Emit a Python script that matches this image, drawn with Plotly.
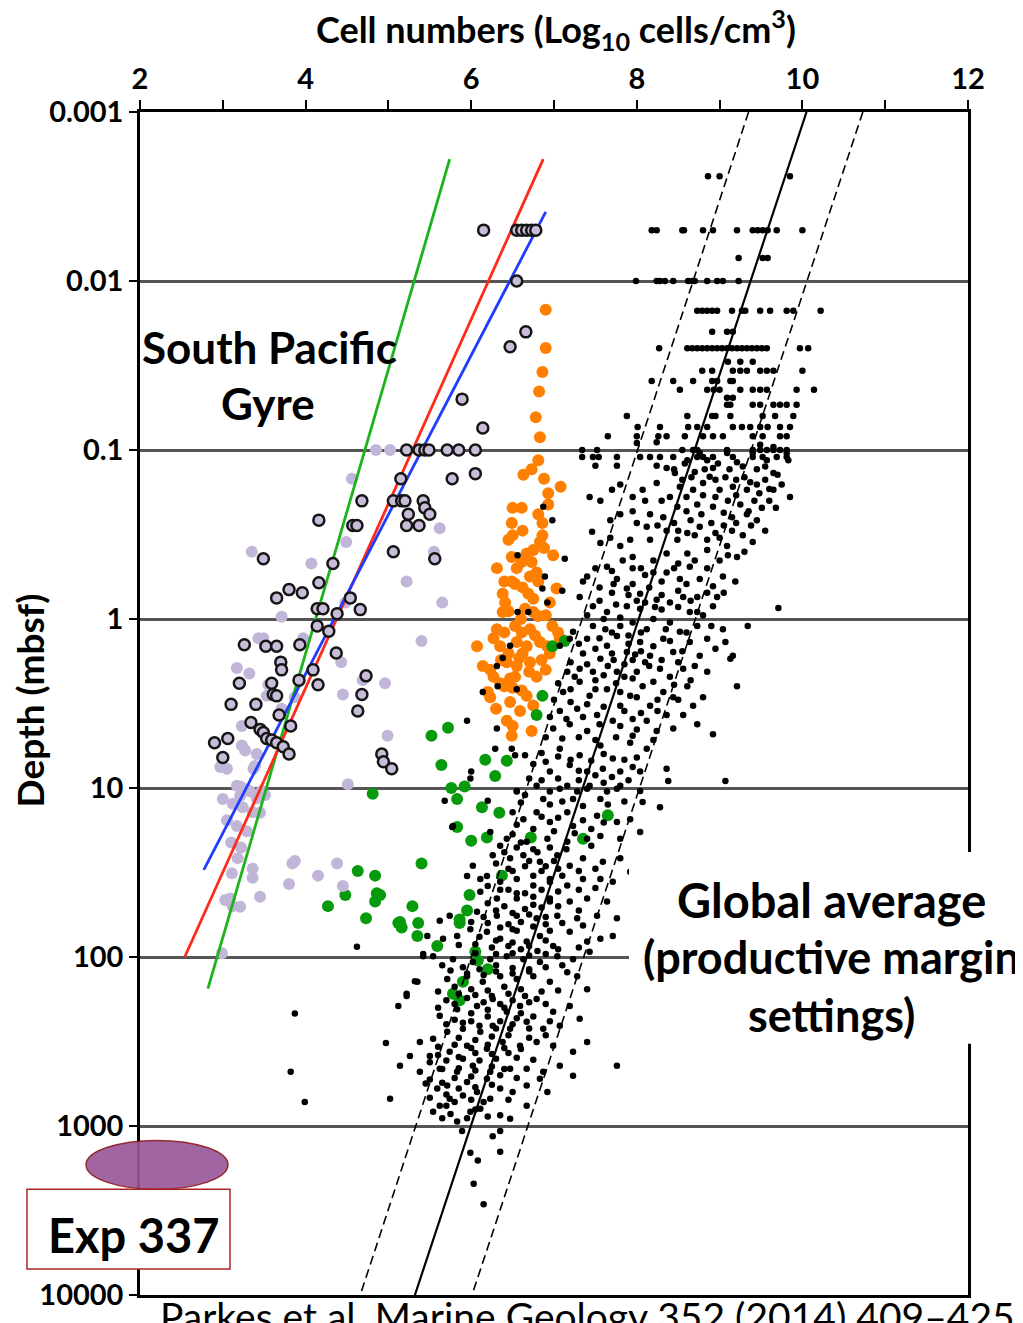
import plotly.graph_objects as go

# ---------------- data ----------------
# South Pacific Gyre: open circles (x = log10 cells/cm3, depth = mbsf)
spg_open_x = [6.15, 6.55, 6.61, 6.67, 6.73, 6.78, 6.55, 6.66, 6.47, 5.89, 6.14,
              5.22, 5.37, 5.44, 5.49, 5.71, 5.85, 6.05,
              5.77, 6.05, 5.15, 4.68, 5.06, 5.16, 5.20, 5.42, 5.44, 5.50, 5.24,
              4.16, 4.57, 4.62, 5.22, 5.37, 5.06, 5.56, 3.49, 4.33, 4.16,
              3.65, 3.80, 3.96, 4.14, 4.21, 4.54, 4.66, 4.38, 4.14, 4.28, 3.26,
              3.52, 3.65, 3.93, 4.37, 3.70, 3.71, 4.09, 4.73, 3.20, 3.59, 3.92,
              4.15, 4.68, 3.61, 3.65, 3.10, 3.40, 4.63, 3.68, 3.34, 3.45, 3.49,
              3.82, 2.90, 3.06, 3.53, 3.59, 3.65, 3.73, 3.80, 3.00, 4.92, 4.94, 5.04]
spg_open_depth = [0.005, 0.005, 0.005, 0.005, 0.005, 0.005, 0.01, 0.02, 0.0245, 0.05, 0.074,
                  0.1, 0.1, 0.1, 0.1, 0.1, 0.1, 0.1,
                  0.148, 0.138, 0.148, 0.2, 0.2, 0.2, 0.2, 0.2, 0.22, 0.24, 0.24,
                  0.26, 0.28, 0.28, 0.28, 0.28, 0.4, 0.44, 0.44, 0.47, 0.61,
                  0.75, 0.67, 0.7, 0.87, 0.87, 0.75, 0.88, 0.93, 1.1, 1.18, 1.42,
                  1.45, 1.45, 1.42, 1.59, 1.8, 2.0, 2.0, 2.17, 2.4, 2.4, 2.3,
                  2.45, 2.8, 2.8, 2.85, 3.2, 3.2, 3.5, 3.7, 4.1, 4.5, 4.7,
                  4.3, 5.4, 5.1, 5.1, 5.2, 5.4, 5.7, 6.3, 6.6, 6.3, 7.0, 7.7]

# South Pacific Gyre: filled lavender circles
spg_fill_x = [4.85, 5.02, 4.56, 3.35, 4.07, 4.49, 5.62, 5.55, 5.22, 5.65, 3.71, 4.48,
              5.40, 3.43, 3.49, 3.97, 3.17, 3.32, 4.43, 4.69, 4.96, 3.55, 3.53, 4.45,
              3.87, 3.71, 3.23, 3.23, 3.27, 3.41, 2.99, 3.05, 3.39, 4.99, 4.51, 3.21,
              3.29, 3.47, 2.97, 3.37, 3.17, 3.24, 3.33, 3.21, 3.00, 3.12, 3.24, 3.36,
              3.05, 3.17, 3.29, 3.10, 3.22, 3.41, 3.51, 3.45, 3.18, 3.36, 3.11, 3.84,
              3.87, 3.80, 4.15, 4.38, 4.45, 3.36, 3.45, 3.03, 3.09, 3.12, 3.21, 2.99]
spg_fill_depth = [0.1, 0.1, 0.148, 0.4, 0.47, 0.35, 0.29, 0.4, 0.6, 0.8, 0.97, 0.8,
                  1.35, 1.3, 1.3, 1.3, 1.95, 2.1, 1.8, 2.3, 2.4, 2.45, 2.85, 2.8,
                  2.9, 3.4, 4.3, 5.6, 6.0, 6.3, 7.3, 7.7, 7.4, 4.9, 9.5, 9.8,
                  10.2, 10.4, 7.5, 7.7, 9.7, 10.1, 10.5, 11.1, 11.6, 12.4, 13.0, 13.9,
                  15.5, 16.8, 18.0, 21.0, 22.5, 11.5, 11.0, 14.0, 26.0, 30.0, 32.0, 28.0,
                  27.0, 37.0, 33.0, 28.0, 38.0, 34.0, 44.0, 46.0, 45.0, 50.0, 50.5, 95.0]

# orange filled circles
orange_x = [6.90, 6.90, 6.86, 6.82, 6.78, 6.83, 6.81, 6.63, 6.73, 6.88, 7.08, 6.93,
            6.93, 6.50, 6.61, 6.81, 6.86, 6.49, 6.50, 6.45, 6.86, 6.83, 6.75, 6.67,
            6.49, 6.99, 6.31, 6.61, 6.73, 6.79, 6.49, 6.53, 6.71, 6.81, 7.03, 6.38,
            6.69, 6.75, 6.95, 6.41, 6.38, 6.65, 6.75, 6.81, 6.53, 6.61, 6.31, 6.71,
            6.77, 6.98, 7.05, 6.07, 6.27, 6.35, 6.55, 6.67, 6.83, 6.92, 7.07, 6.14,
            6.23, 6.43, 6.55, 6.71, 6.95, 6.27, 6.35, 6.79, 6.23, 6.20, 6.53, 6.61,
            6.67, 6.75, 6.47, 6.59, 6.43, 6.50, 6.73, 6.49,
            6.55, 6.62, 6.45, 6.60, 6.40, 6.90, 6.45, 6.62, 6.85, 6.40, 6.50, 6.90,
            6.30, 6.88, 6.62, 6.40, 6.58, 6.70, 6.36, 6.47]
orange_depth = [0.0148, 0.0249, 0.0345, 0.045, 0.064, 0.084, 0.115, 0.14, 0.13, 0.148, 0.165, 0.18,
                0.21, 0.22, 0.22, 0.24, 0.27, 0.27, 0.32, 0.34, 0.32, 0.35, 0.39, 0.41,
                0.43, 0.42, 0.5, 0.46, 0.46, 0.53, 0.6, 0.62, 0.56, 0.6, 0.66, 0.71,
                0.71, 0.76, 0.8, 0.8, 0.91, 0.87, 0.91, 0.96, 1.1, 1.2, 1.15, 1.15,
                1.25, 1.1, 1.2, 1.45, 1.3, 1.45, 1.37, 1.45, 1.37, 1.45, 1.3, 1.9,
                2.0, 1.8, 1.9, 1.8, 1.6, 2.2, 2.4, 2.2, 2.9, 2.7, 2.2, 2.65,
                2.85, 3.25, 3.1, 3.5, 4.0, 4.3, 4.6, 4.9,
                0.5, 0.65, 0.9, 1.0, 1.2, 0.95, 1.6, 1.6, 1.75, 2.5, 2.55, 2.0,
                3.4, 0.38, 0.3, 0.6, 1.7, 2.05, 1.75, 2.25]

# green filled circles
green_x = [6.98, 7.13, 6.86, 6.79, 5.72, 5.52, 5.64, 6.17, 6.43, 6.29, 5.76, 5.92,
           5.83, 6.13, 6.34, 5.83, 6.00, 6.19, 6.72, 7.35, 5.40, 6.37, 5.98, 5.29,
           5.95, 5.14, 5.36, 5.35, 5.16, 5.86, 5.86, 5.59, 6.05, 6.08, 6.20, 5.90,
           5.78, 5.86, 4.81, 4.63, 4.84, 4.48, 4.86, 4.90, 4.84, 4.27, 4.73, 5.12, 7.65]
green_depth = [1.45, 1.35, 2.85, 3.7, 4.4, 4.9, 7.3, 6.8, 6.9, 8.5, 10.0, 9.8,
               11.6, 13.0, 14.0, 17.0, 20.5, 19.6, 19.6, 20.0, 28.0, 33.0, 43.0, 50.0,
               53.0, 62.0, 63.0, 75.0, 67.0, 60.0, 63.0, 86.0, 93.0, 105.0, 118.0, 140.0,
               165.0, 180.0, 10.8, 31.0, 33.0, 43.0, 42.0, 43.0, 47.0, 50.0, 59.0, 63.0, 14.5]

# black dots (global data set): shallow rows recorded at fixed depths
black_row_depth = [0.0024, 0.005, 0.0073, 0.01, 0.015, 0.02, 0.025, 0.03, 0.034, 0.039,
                   0.044, 0.049, 0.054, 0.063, 0.073, 0.083, 0.1, 0.11]
black_row_x = [
    [8.86, 9.00, 9.85],
    [8.18, 8.24, 8.55, 8.57, 8.80, 8.92, 9.21, 9.40, 9.46, 9.52, 9.58, 9.69, 10.00],
    [9.23, 9.52, 9.58],
    [7.99, 8.24, 8.28, 8.34, 8.44, 8.62, 8.67, 8.70, 8.85, 8.97, 9.04, 9.23],
    [8.73, 8.79, 8.85, 8.91, 8.97, 9.15, 9.27, 9.31, 9.49, 9.61, 9.81, 9.89, 10.22],
    [8.91, 9.09, 9.16],
    [8.27, 8.61, 8.67, 8.73, 8.79, 8.85, 8.91, 8.97, 9.03, 9.09, 9.15, 9.21, 9.27, 9.33,
     9.39, 9.45, 9.51, 9.57, 9.97, 10.07],
    [9.10, 9.25, 9.40],
    [8.79, 8.91, 9.16, 9.25, 9.33, 9.49, 9.57, 9.65, 10.00],
    [8.18, 8.44, 8.68, 8.91, 8.97, 9.13, 9.16],
    [8.52, 8.85, 8.93, 9.00, 9.25, 9.40, 9.49, 9.57, 9.93, 10.14],
    [9.09, 9.16],
    [9.09, 9.13, 9.40, 9.49, 9.65, 9.73, 9.81, 9.93],
    [7.88, 8.61, 8.91, 8.95, 9.13, 9.52, 9.67, 9.89],
    [8.01, 8.28, 8.62, 8.73, 8.85, 9.16, 9.27, 9.37, 9.49, 9.58, 9.73, 9.85],
    [7.65, 8.00, 8.26, 8.36, 8.58, 8.80, 8.92, 9.04, 9.40, 9.52, 9.73, 9.81],
    [7.34, 7.52, 8.55, 8.68, 8.73, 9.09, 9.40, 9.49, 9.57, 9.65, 9.73, 9.81],
    [7.47, 7.76, 8.04, 8.16, 8.28, 8.44, 8.73, 8.80, 8.92, 9.16, 9.40, 9.52, 9.69, 9.81],
]

# black dots: deeper scattered samples (x, depth)
black_points = [
    (7.34, 0.11), (7.54, 0.11), (7.50, 0.124), (7.76, 0.124), (8.00, 0.091), (8.24, 0.09),
    (8.24, 0.124), (8.36, 0.128), (8.46, 0.137), (8.61, 0.115), (8.76, 0.104), (8.85, 0.115),
    (8.92, 0.128), (9.09, 0.104), (9.21, 0.118), (9.40, 0.104), (9.57, 0.115), (9.65, 0.137),
    (9.81, 0.104), (9.83, 0.115), (9.65, 0.096), (9.49, 0.093),
    (7.43, 0.19), (7.56, 0.2), (7.70, 0.172), (7.80, 0.16), (8.07, 0.172), (8.24, 0.157),
    (8.52, 0.165), (8.68, 0.172), (8.80, 0.157), (8.88, 0.144), (9.00, 0.172), (9.16, 0.165),
    (9.33, 0.172), (9.37, 0.155), (9.65, 0.172), (9.85, 0.19), (9.51, 0.22), (9.25, 0.21),
    (8.92, 0.217), (8.73, 0.21), (8.49, 0.217), (8.32, 0.25), (8.16, 0.24), (7.95, 0.23),
    (7.80, 0.24), (7.68, 0.26),
    (7.46, 0.305), (7.56, 0.355), (7.68, 0.33), (7.80, 0.37), (7.92, 0.34), (8.12, 0.285),
    (8.16, 0.34), (8.36, 0.3), (8.49, 0.34), (8.61, 0.31), (8.76, 0.285), (8.85, 0.34),
    (9.00, 0.33), (9.09, 0.37), (9.28, 0.32), (9.21, 0.43), (8.85, 0.39), (8.61, 0.41),
    (8.36, 0.41), (7.95, 0.43), (7.83, 0.45), (7.13, 0.44),
    (7.40, 0.56), (7.64, 0.49), (7.76, 0.58), (7.88, 0.66), (8.04, 0.71), (8.20, 0.53),
    (8.36, 0.53), (8.52, 0.58), (8.64, 0.49), (8.76, 0.58), (8.92, 0.64), (9.04, 0.56),
    (9.19, 0.6), (8.73, 0.74), (8.56, 0.74), (8.40, 0.8), (8.24, 0.77), (8.04, 0.87),
    (7.88, 0.84), (7.64, 0.91), (7.47, 0.84), (7.31, 0.74), (7.35, 0.6), (8.73, 0.91),
    (8.92, 0.84), (8.97, 0.74), (8.64, 0.91), (9.71, 0.86), (9.34, 1.1),
    (7.23, 1.19), (7.40, 1.31), (7.47, 1.1), (7.64, 1.44), (7.76, 1.26), (7.56, 1.72),
    (7.88, 1.57), (8.04, 1.37), (8.12, 1.15), (8.16, 1.65), (8.32, 1.31), (8.44, 1.57),
    (8.52, 1.19), (8.64, 1.37), (8.73, 1.1), (8.76, 1.65), (8.56, 1.97), (8.28, 1.97),
    (8.00, 2.05), (7.76, 2.05), (7.47, 2.05), (7.31, 1.97), (7.16, 2.05), (8.85, 1.31),
    (9.04, 1.15), (9.16, 1.65), (8.85, 2.05), (9.07, 1.37), (9.13, 1.72),
    (7.11, 2.7), (7.31, 2.35), (7.43, 2.85), (7.64, 2.6), (7.80, 3.26), (7.92, 2.85),
    (8.07, 2.5), (8.16, 3.26), (8.32, 2.7), (8.44, 2.9), (8.61, 2.5), (8.68, 3.26),
    (8.36, 3.7), (8.12, 4.0), (7.95, 3.9), (7.71, 4.0), (7.52, 3.7), (7.28, 3.4),
    (7.07, 3.5), (9.21, 2.5), (8.92, 4.8), (8.56, 3.7), (8.73, 4.2), (8.44, 4.45),
    (8.24, 4.6), (7.40, 4.6), (7.19, 4.2), (6.99, 4.45),
    (7.07, 5.86), (7.31, 6.4), (7.56, 5.6), (7.71, 6.7), (7.92, 5.4), (8.12, 5.86),
    (8.04, 8.0), (7.80, 8.0), (7.59, 7.7), (7.40, 8.0), (7.19, 7.3), (6.95, 8.0),
    (8.36, 7.7), (8.38, 9.1), (9.07, 9.1), (7.80, 9.7), (7.43, 9.7), (7.16, 9.7),
    (6.95, 10.5), (7.28, 10.5), (7.64, 10.5), (8.04, 10.4),
    (6.55, 10.4), (6.79, 9.7), (6.87, 11.6), (7.07, 10.1), (7.23, 11.6), (7.40, 10.1),
    (7.56, 11.6), (7.76, 10.1), (8.07, 12.1), (8.28, 13.0), (6.50, 13.9), (6.63, 15.3),
    (6.79, 13.9), (6.95, 15.9), (7.16, 13.9), (7.23, 16.8), (7.52, 14.6), (7.76, 15.9),
    (7.92, 15.3), (8.04, 18.2), (7.80, 20.0), (7.56, 19.2), (7.40, 20.0), (7.16, 20.8),
    (6.92, 20.0), (6.67, 20.8), (6.43, 20.0), (6.23, 18.2), (5.68, 11.9), (5.78, 16.8),
    (6.26, 25.0), (6.47, 26.0), (6.63, 25.0), (6.83, 27.3), (7.04, 25.0), (7.19, 28.8),
    (7.35, 26.0), (7.59, 27.3), (7.80, 26.0), (7.92, 31.3), (7.71, 35.9), (7.56, 34.6),
    (7.35, 34.6), (7.16, 37.7), (6.95, 34.6), (6.75, 37.7), (6.55, 34.6), (6.35, 35.9),
    (6.19, 33.2), (6.11, 41.1), (6.31, 45.0), (6.55, 45.0), (6.75, 49.0), (6.95, 45.0),
    (7.19, 46.9), (7.40, 45.0), (7.64, 46.9), (7.76, 59.0), (7.52, 57.0), (7.28, 59.0),
    (7.04, 57.0), (6.79, 59.0), (6.55, 57.0), (6.31, 57.0), (6.07, 54.0), (5.74, 57.0),
    (5.62, 61.0), (6.11, 34.6), (6.02, 28.8), (5.95, 33.2),
    (5.47, 75.0), (5.66, 78.0), (5.83, 75.0), (5.99, 68.6), (6.19, 71.0), (6.35, 78.0),
    (6.50, 68.6), (6.67, 81.0), (6.83, 75.0), (6.99, 86.0), (7.19, 71.0), (7.40, 81.0),
    (7.56, 78.0), (7.71, 75.0), (7.43, 93.0), (7.23, 103.0), (7.04, 99.0), (6.83, 107.0),
    (6.63, 103.0), (6.43, 99.0), (6.23, 103.0), (6.02, 107.0), (5.78, 103.0), (5.54, 99.0),
    (5.42, 99.0), (5.35, 140.0), (5.22, 170.0), (5.71, 135.0), (5.95, 130.0), (6.14, 140.0),
    (6.35, 130.0), (6.55, 135.0), (6.75, 130.0), (6.95, 140.0), (7.16, 123.0), (7.40, 155.0),
    (7.28, 130.0),
    (5.62, 223.0), (5.83, 204.0), (6.07, 195.0), (6.26, 177.0), (6.43, 211.0), (6.59, 195.0),
    (6.79, 177.0), (6.99, 211.0), (7.19, 195.0), (7.31, 232.0), (7.07, 255.0), (6.87, 266.0),
    (6.67, 242.0), (6.47, 266.0), (6.26, 255.0), (6.11, 277.0), (5.90, 266.0), (5.71, 277.0),
    (5.54, 305.0), (5.38, 318.0), (5.26, 385.0), (5.50, 385.0), (5.74, 364.0), (5.95, 335.0),
    (6.19, 349.0), (6.38, 318.0), (6.59, 335.0), (6.79, 318.0), (6.99, 335.0), (7.23, 364.0),
    (7.40, 318.0), (7.76, 440.0), (5.14, 440.0),
    (5.38, 478.0), (5.62, 458.0), (5.83, 478.0), (6.02, 440.0), (6.23, 478.0), (6.47, 458.0),
    (6.67, 458.0), (6.87, 478.0), (7.07, 440.0), (7.23, 505.0), (5.54, 823.0), (5.62, 760.0),
    (5.74, 690.0), (5.90, 660.0), (6.07, 630.0), (6.23, 690.0), (6.35, 600.0), (6.50, 630.0),
    (6.67, 575.0), (6.83, 525.0), (6.92, 630.0), (6.35, 865.0), (6.11, 790.0), (5.99, 823.0),
    (5.83, 942.0), (6.47, 905.0), (6.67, 760.0), (6.19, 525.0), (5.95, 550.0), (5.71, 575.0),
    (5.59, 600.0), (6.26, 1150.0), (5.99, 1440.0), (6.08, 1600.0), (6.35, 1070.0),
    (5.89, 1070.0), (6.03, 2200.0), (6.15, 2900.0), (6.35, 1420.0),
    (3.82, 478.0), (3.99, 720.0), (3.87, 216.0), (5.02, 690.0), (4.97, 323.0), (4.62, 87.0),
    (5.32, 139.0), (5.22, 165.0), (5.12, 195.0), (5.42, 96.0), (5.95, 4.0), (5.99, 8.8),
    (6.56, 0.42), (6.89, 0.56), (6.86, 0.66), (6.92, 0.8), (6.56, 0.91), (6.69, 0.91),
    (6.47, 1.44), (6.38, 1.7), (6.31, 1.9), (6.14, 2.7), (6.32, 2.5), (6.55, 2.6),
    (6.31, 4.45), (6.49, 5.86), (6.87, 0.217), (6.98, 0.26), (7.10, 0.68), (7.07, 1.44),
    (7.19, 1.31), (6.29, 5.86), (6.53, 6.4), (6.65, 6.4), (6.00, 8.0), (6.20, 11.9),
    (6.55, 10.5), (5.77, 17.0),
    # denser core, 0.1 - 0.5 m
    (8.45, 0.13), (8.58, 0.12), (8.70, 0.135), (8.82, 0.13), (8.98, 0.12), (9.12, 0.13),
    (9.28, 0.125), (9.45, 0.13), (8.55, 0.15), (8.66, 0.145), (8.95, 0.15), (9.07, 0.145),
    (9.20, 0.15), (9.45, 0.16), (9.55, 0.15), (8.60, 0.19), (8.80, 0.185), (8.95, 0.19),
    (9.10, 0.2), (9.20, 0.185), (9.42, 0.2), (9.60, 0.2), (8.40, 0.19), (8.30, 0.2),
    (8.60, 0.23), (8.78, 0.24), (9.05, 0.235), (9.15, 0.25), (9.33, 0.24), (9.45, 0.26),
    (8.45, 0.27), (8.65, 0.26), (8.90, 0.27), (9.05, 0.28), (8.10, 0.2), (7.95, 0.19),
    (8.00, 0.27), (8.25, 0.28), (8.50, 0.3), (8.70, 0.32), (8.95, 0.31), (9.15, 0.3), (9.38, 0.28),
    (9.55, 0.125), (9.70, 0.14), (9.60, 0.17), (9.75, 0.16), (9.48, 0.18), (9.30, 0.145),
    (9.68, 0.22), (9.35, 0.23), (9.20, 0.27), (9.55, 0.3), (9.40, 0.35), (9.10, 0.42),
    (9.00, 0.45), (9.30, 0.4), (8.70, 0.45), (8.50, 0.47), (8.20, 0.45), (8.05, 0.5),
    # denser core, 0.5 - 3 m
    (7.50, 0.5), (7.70, 0.52), (7.95, 0.5), (8.10, 0.55), (8.30, 0.6), (8.45, 0.5),
    (8.60, 0.62), (8.85, 0.5), (7.55, 0.65), (7.70, 0.7), (7.95, 0.62), (8.15, 0.65),
    (8.30, 0.72), (8.50, 0.68), (8.65, 0.78), (8.85, 0.7), (9.05, 0.7), (7.55, 0.78),
    (7.75, 0.82), (8.10, 0.8), (8.30, 0.88), (8.50, 0.85), (8.80, 0.95), (7.40, 0.95),
    (7.60, 1.0), (7.80, 0.98), (7.95, 1.05), (8.20, 1.0), (8.40, 1.05), (8.60, 1.2),
    (8.90, 1.1), (7.30, 1.4), (7.55, 1.3), (7.70, 1.2), (7.90, 1.25), (8.20, 1.45),
    (8.40, 1.35), (8.55, 1.55), (8.95, 1.5), (7.35, 1.6), (7.50, 1.5), (7.70, 1.6),
    (7.95, 1.75), (8.05, 1.55), (8.30, 1.75), (8.50, 1.8), (8.70, 1.9), (7.20, 1.8),
    (7.40, 1.85), (7.65, 1.9), (7.85, 1.85), (8.15, 1.9), (8.40, 2.2), (8.65, 2.3),
    (7.25, 2.2), (7.50, 2.3), (7.75, 2.4), (7.95, 2.25), (8.20, 2.35), (8.45, 2.45),
    (7.05, 2.4), (7.20, 2.6), (7.50, 2.6), (7.80, 2.7), (8.00, 2.9), (8.25, 3.0),
    (8.50, 3.0), (8.80, 2.9),
    (7.80, 1.1), (7.90, 1.4), (8.05, 1.2), (8.10, 1.8), (7.85, 2.2), (7.60, 2.15),
    (7.72, 1.75), (7.98, 1.62), (7.62, 1.15), (8.00, 0.78), (8.22, 0.85), (8.35, 1.15),
    (7.90, 0.72), (7.72, 0.62),
    # denser core, 3 - 20 m
    (7.00, 3.0), (7.20, 3.1), (7.40, 3.2), (7.60, 3.3), (7.85, 3.5), (8.05, 3.6),
    (8.25, 3.5), (6.95, 3.8), (7.15, 3.9), (7.35, 3.8), (7.55, 4.2), (7.80, 4.3),
    (8.00, 4.5), (6.90, 5.0), (7.10, 5.1), (7.30, 5.0), (7.50, 5.2), (7.75, 5.0),
    (7.95, 4.9), (8.20, 5.2), (6.85, 6.2), (7.05, 6.5), (7.20, 6.8), (7.45, 6.9),
    (7.60, 6.3), (7.85, 6.8), (8.00, 6.6), (6.75, 7.2), (6.90, 7.0), (7.30, 7.9),
    (7.50, 8.4), (7.70, 8.6), (7.95, 7.5), (6.70, 8.8), (6.85, 9.0), (7.05, 8.8),
    (7.30, 9.0), (7.60, 9.3), (7.90, 9.0), (6.65, 11.0), (6.95, 12.5), (7.10, 12.0),
    (7.35, 12.8), (7.65, 12.5), (7.85, 12.0), (6.60, 12.2), (6.85, 14.8), (7.05, 15.0),
    (7.35, 15.5), (7.60, 16.0), (7.45, 17.5), (6.55, 16.5), (6.75, 17.5), (7.00, 18.0),
    (7.25, 18.5), (6.50, 18.8),
    # denser core, 20 - 300 m
    (6.35, 22.0), (6.55, 22.5), (6.75, 23.0), (6.95, 22.5), (7.15, 23.0), (7.45, 22.0),
    (6.30, 28.0), (6.45, 30.0), (6.65, 29.0), (6.85, 31.0), (7.05, 30.0), (7.30, 31.0),
    (7.50, 30.0), (6.20, 38.0), (6.45, 40.0), (6.65, 42.0), (6.85, 40.0), (7.05, 41.0),
    (7.30, 40.0), (7.50, 39.0), (6.20, 48.0), (6.40, 50.0), (6.65, 52.0), (6.85, 51.0),
    (7.05, 50.0), (7.30, 53.0), (6.00, 62.0), (6.20, 63.0), (6.45, 64.0), (6.60, 62.0),
    (6.90, 64.0), (7.10, 63.0), (7.35, 65.0), (5.85, 85.0), (6.05, 84.0), (6.25, 88.0),
    (6.45, 86.0), (6.60, 90.0), (6.80, 92.0), (7.05, 90.0), (7.30, 88.0), (5.65, 112.0),
    (5.90, 115.0), (6.10, 118.0), (6.30, 112.0), (6.50, 116.0), (6.70, 118.0), (6.90, 115.0),
    (7.10, 112.0), (5.80, 150.0), (6.00, 155.0), (6.20, 158.0), (6.40, 150.0), (6.60, 155.0),
    (6.85, 160.0), (7.05, 158.0), (5.70, 180.0), (5.95, 175.0), (6.15, 185.0), (6.35, 190.0),
    (6.50, 180.0), (6.70, 185.0), (6.90, 190.0), (5.80, 235.0), (6.00, 240.0), (6.20, 225.0),
    (6.35, 240.0), (6.55, 230.0), (6.75, 225.0), (6.95, 240.0), (5.85, 300.0), (6.05, 310.0),
    (6.25, 295.0), (6.45, 290.0), (6.70, 300.0), (6.90, 290.0),
    (6.60, 21.0), (6.80, 24.0), (7.00, 27.0), (6.40, 24.0), (6.70, 27.0), (6.90, 29.0),
    (6.50, 31.0), (6.75, 33.0), (6.95, 36.0), (7.10, 33.0), (6.35, 40.0), (6.55, 42.0),
    (6.75, 44.0), (6.95, 47.0), (6.30, 53.0), (6.50, 55.0), (6.70, 56.0), (6.90, 58.0),
    (6.15, 58.0), (6.35, 67.0), (6.55, 70.0), (6.75, 66.0), (6.95, 70.0), (6.10, 76.0),
    (6.30, 80.0), (6.50, 82.0), (6.70, 86.0), (6.90, 80.0), (6.05, 95.0), (6.30, 96.0),
    (6.50, 95.0), (6.70, 98.0), (6.90, 96.0),
    (5.75, 120.0), (5.95, 125.0), (6.15, 128.0), (6.30, 122.0), (6.50, 125.0), (6.70, 122.0),
    (5.60, 160.0), (5.85, 165.0), (6.05, 168.0), (6.25, 170.0), (6.45, 165.0), (6.65, 170.0),
    (5.60, 200.0), (5.80, 190.0), (6.00, 215.0), (6.20, 205.0), (6.40, 200.0), (6.60, 215.0),
    (5.70, 250.0), (5.90, 245.0), (6.10, 255.0), (6.30, 265.0), (6.50, 250.0), (6.70, 265.0),
    # denser core, 300 - 1000 m
    (5.50, 420.0), (5.70, 410.0), (5.90, 400.0), (6.10, 410.0), (6.30, 400.0), (6.55, 395.0),
    (6.75, 405.0), (5.50, 530.0), (5.80, 520.0), (6.00, 510.0), (6.35, 500.0), (6.55, 520.0),
    (5.70, 650.0), (6.00, 700.0), (6.15, 720.0), (6.45, 700.0), (5.95, 900.0), (6.20, 880.0),
    (5.70, 760.0),
    (5.60, 340.0), (5.80, 330.0), (6.00, 345.0), (6.20, 330.0), (6.40, 345.0), (6.60, 350.0),
    (5.60, 380.0), (5.85, 390.0), (6.05, 370.0), (6.25, 375.0), (6.45, 370.0), (5.65, 460.0),
    (5.85, 455.0), (6.05, 470.0), (6.25, 445.0), (6.40, 460.0), (5.45, 560.0), (5.65, 555.0),
    (5.85, 600.0), (6.05, 590.0), (6.25, 570.0), (5.50, 680.0), (5.80, 720.0), (6.05, 800.0),
    (5.65, 900.0), (5.75, 850.0),
]

# regression lines (end points)
spg_green_x, spg_green_depth = [5.74, 2.82], [0.0019, 154.0]
spg_red_x, spg_red_depth = [6.87, 2.54], [0.0019, 100.0]
spg_blue_x, spg_blue_depth = [6.90, 2.77], [0.0039, 30.5]
global_x, global_depth = [10.05, 5.32], [0.001, 10000.0]
global_lo_x, global_lo_depth = [9.35, 4.66], [0.001, 10000.0]
global_hi_x, global_hi_depth = [10.73, 6.01], [0.001, 10000.0]

x_ticks = list(range(2, 13))
x_ticktext = ["<b>%d</b>" % v if v % 2 == 0 else "" for v in x_ticks]
y_ticks = [0.001, 0.01, 0.1, 1, 10, 100, 1000, 10000]
y_ticktext = ["<b>%s</b>" % t for t in ["0.001", "0.01", "0.1", "1", "10", "100", "1000", "10000"]]

# ---------------- build ----------------
bx, bd = [], []
for d, xs in zip(black_row_depth, black_row_x):
    for v in xs:
        bx.append(v)
        bd.append(d)
for v, d in black_points:
    bx.append(v)
    bd.append(d)

FONT = "Lato"
fig = go.Figure()

fig.add_trace(go.Scatter(x=orange_x, y=orange_depth, mode="markers",
                         marker=dict(size=12, color="#ff8000", line=dict(width=0))))
fig.add_trace(go.Scatter(x=green_x, y=green_depth, mode="markers",
                         marker=dict(size=12, color="#079a0c", line=dict(width=0))))
fig.add_trace(go.Scatter(x=bx, y=bd, mode="markers",
                         marker=dict(size=6.5, color="black", line=dict(width=0))))
fig.add_trace(go.Scatter(x=global_x, y=global_depth, mode="lines",
                         line=dict(color="black", width=2.2)))
fig.add_trace(go.Scatter(x=global_lo_x, y=global_lo_depth, mode="lines",
                         line=dict(color="black", width=1.6, dash="9px,5px")))
fig.add_trace(go.Scatter(x=global_hi_x, y=global_hi_depth, mode="lines",
                         line=dict(color="black", width=1.6, dash="9px,5px")))
fig.add_trace(go.Scatter(x=spg_fill_x, y=spg_fill_depth, mode="markers",
                         marker=dict(size=12, color="#c2b6d8", line=dict(width=0))))
fig.add_trace(go.Scatter(x=spg_green_x, y=spg_green_depth, mode="lines",
                         line=dict(color="#1db31d", width=2.8)))
fig.add_trace(go.Scatter(x=spg_red_x, y=spg_red_depth, mode="lines",
                         line=dict(color="#ff2a1a", width=2.8)))
fig.add_trace(go.Scatter(x=spg_blue_x, y=spg_blue_depth, mode="lines",
                         line=dict(color="#1f3cff", width=2.8)))
fig.add_trace(go.Scatter(x=spg_open_x, y=spg_open_depth, mode="markers",
                         marker=dict(size=11, color="#c8bcd8", line=dict(width=2.5, color="#151515"))))

# the page adds an 8 px body margin, so the figure is 8 px smaller and margins shifted
fig.update_layout(
    width=1015, height=1315,
    margin=dict(l=132, r=55, t=104, b=25),
    paper_bgcolor="white", plot_bgcolor="white",
    showlegend=False,
    font=dict(family=FONT, color="black"),
    xaxis=dict(side="top", range=[2, 12], tickvals=x_ticks, ticktext=x_ticktext,
               ticks="outside", ticklen=9, tickwidth=2, tickcolor="black",
               tickfont=dict(family=FONT, size=29, color="black"),
               showline=True, linewidth=2.5, linecolor="black", mirror=True,
               showgrid=False, zeroline=False),
    yaxis=dict(type="log", range=[4, -3], tickvals=y_ticks, ticktext=y_ticktext,
               ticks="outside", ticklen=8, tickwidth=2, tickcolor="black",
               tickfont=dict(family=FONT, size=29, color="black"),
               showline=True, linewidth=2.5, linecolor="black", mirror=True,
               showgrid=True, gridcolor="#555555", gridwidth=2.5, zeroline=False),
)

W, H = 828.0, 1186.0
def px(x):
    return (x - 140) / W
def py(y):
    return (1298 - y) / H

shapes = [
    # white box behind the "Global average" label
    dict(type="rect", xref="paper", yref="paper", x0=px(629), x1=px(1040), y0=py(1046), y1=py(854),
         fillcolor="white", line=dict(width=0), layer="above"),
    # purple ellipse
    dict(type="circle", xref="paper", yref="paper", x0=px(86), x1=px(228), y0=py(1192), y1=py(1143),
         fillcolor="#9a589b", opacity=0.92, line=dict(color="#8c1a22", width=1.5), layer="above"),
    # Exp 337 box
    dict(type="rect", xref="paper", yref="paper", x0=px(27), x1=px(230), y0=py(1272), y1=py(1192),
         fillcolor="white", line=dict(color="#a82424", width=1.5), layer="above"),
]
fig.update_layout(shapes=shapes)

ann = [
    dict(text="<b>Cell numbers (Log<sub>10</sub> cells/cm<sup>3</sup>)</b>", x=px(556), y=py(29),
         font=dict(size=36)),
    dict(text="<b>Depth (mbsf)</b>", x=px(30), y=py(702), textangle=-90, font=dict(size=37)),
    dict(text="<b>South Pacific</b>", x=px(269), y=py(348), font=dict(size=44)),
    dict(text="<b>Gyre</b>", x=px(268), y=py(404), font=dict(size=44)),
    dict(text="<b>Global average</b>", x=px(831), y=py(902), font=dict(size=47)),
    dict(text="<b>(productive margin</b>", x=px(831), y=py(959), font=dict(size=45)),
    dict(text="<b>settings)</b>", x=px(831), y=py(1017), font=dict(size=45)),
    dict(text="<b>Exp 337</b>", x=px(133), y=py(1238), font=dict(size=47)),
    dict(text="Parkes et al. Marine Geology 352 (2014) 409\u2013425", x=px(158), y=py(1294),
         xanchor="left", yanchor="top", font=dict(size=39)),
]
for a in ann:
    a.setdefault("xanchor", "center")
    a.setdefault("yanchor", "middle")
    a["xref"] = "paper"
    a["yref"] = "paper"
    a["showarrow"] = False
    a["font"] = dict(family=FONT, color="black", size=a["font"]["size"])
fig.update_layout(annotations=ann)

fig.write_html("out.html")
